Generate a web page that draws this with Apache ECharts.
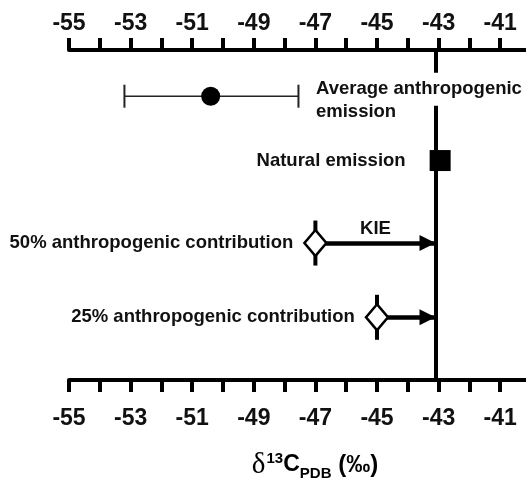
<!DOCTYPE html>
<html><head><meta charset="utf-8">
<script src="https://cdn.jsdelivr.net/npm/echarts@6/dist/echarts.min.js"></script>
<style>html,body{margin:0;padding:0;background:#fff}#c{width:526px;height:483px}</style>
</head><body><div id="c"></div>
<script>
// ---- data (δ13C, ‰ PDB) ----
const tickLabels = [-55, -53, -51, -49, -47, -45, -43, -41];
const anthroMean = -50.4;
const anthroRange = [-53.2, -47.55];
const naturalValue = -42.95;
const kieValue = -43.1;
const mixLabels = ['50% anthropogenic contribution', '25% anthropogenic contribution'];
const mixValues = [-47.0, -45.0];
const anthroLabelLines = ['Average anthropogenic', 'emission'];
// vertical row positions of the annotation rows (no data meaning)
const rowAnthro = 8.6;
const rowNatural = 6.65;
const rowMix = [4.15, 1.9];

const SANS = "'Liberation Sans', Arial, Helvetica, sans-serif";
const labelFmt = v => tickLabels.includes(v) ? String(v) : '';
const textStyle = { fontFamily: SANS, fontWeight: 'bold', fontSize: 18.5, color: '#111' };

function xAxisCfg(pos, margin) {
  return {
    type: 'value', position: pos, min: -55, max: -40, interval: 1,
    axisLine: { show: true, onZero: false, lineStyle: { color: '#000', width: 4 } },
    axisTick: { show: true, length: 12, interval: 0, lineStyle: { color: '#000', width: 4 } },
    splitLine: { show: false },
    axisLabel: { interval: 0, formatter: labelFmt, margin: margin, fontSize: 23, fontWeight: 'bold', color: '#111', fontFamily: SANS }
  };
}

const chart = echarts.init(document.getElementById('c'), null, { renderer: 'canvas' });
chart.setOption({
  animation: false,
  backgroundColor: '#fff',
  grid: { left: 69, width: 462, top: 50, height: 330, outerBoundsMode: 'none', containLabel: false },
  xAxis: [xAxisCfg('top', 15), xAxisCfg('bottom', 27)],
  yAxis: { type: 'value', min: 0, max: 10, show: false },
  graphic: [{
    type: 'text', x: 315, y: 465,
    style: {
      text: '{d|δ}{s|13}{c|C}{p|PDB}{q| (‰)}',
      align: 'center', verticalAlign: 'middle',
      rich: {
        d: { fontFamily: "'Liberation Serif', 'Times New Roman', serif", fontSize: 29, color: '#111' },
        s: { fontFamily: SANS, fontWeight: 'bold', fontSize: 15, color: '#111', padding: [0, 0, 12, 1] },
        c: { fontFamily: SANS, fontWeight: 'bold', fontSize: 23, color: '#111' },
        p: { fontFamily: SANS, fontWeight: 'bold', fontSize: 15, color: '#111', padding: [18, 0, 0, 0] },
        q: { fontFamily: SANS, fontWeight: 'bold', fontSize: 24, color: '#111' }
      }
    }
  }],
  series: [
    { // vertical reference line
      type: 'line', xAxisIndex: 1, data: [],
      markLine: {
        z: 1, silent: true, symbol: 'none', label: { show: false },
        lineStyle: { color: '#000', width: 4, type: 'solid' },
        data: [{ xAxis: kieValue }]
      }
    },
    { // error bar of anthropogenic emission
      type: 'line', xAxisIndex: 1, z: 2,
      data: [[anthroRange[0], rowAnthro], [anthroRange[1], rowAnthro]],
      symbol: 'rect', symbolSize: [2, 23],
      lineStyle: { color: '#222', width: 1.5 }, itemStyle: { color: '#222', opacity: 1 }
    },
    { // mean anthropogenic
      type: 'scatter', xAxisIndex: 1, z: 3,
      data: [[anthroMean, rowAnthro]], symbol: 'circle', symbolSize: 19,
      itemStyle: { color: '#000', opacity: 1 }
    },
    { // label line 1 (masks the vertical line)
      type: 'scatter', xAxisIndex: 1, z: 7,
      data: [[anthroRange[1], rowAnthro]], symbolSize: 1,
      itemStyle: { color: 'rgba(0,0,0,0)', opacity: 1 },
      label: Object.assign({
        show: true, position: 'right', distance: 17, offset: [0, -7],
        formatter: anthroLabelLines[0], align: 'left',
        backgroundColor: '#fff', padding: [5, 4, 9, 0]
      }, textStyle)
    },
    { // label line 2
      type: 'scatter', xAxisIndex: 1, z: 7,
      data: [[anthroRange[1], rowAnthro]], symbolSize: 1,
      itemStyle: { color: 'rgba(0,0,0,0)', opacity: 1 },
      label: Object.assign({
        show: true, position: 'right', distance: 17, offset: [0, 16],
        formatter: anthroLabelLines[1], align: 'left'
      }, textStyle)
    },
    { // natural emission
      type: 'scatter', xAxisIndex: 1, z: 6,
      data: [[naturalValue, rowNatural]], symbol: 'rect', symbolSize: 21,
      itemStyle: { color: '#000', opacity: 1 },
      label: Object.assign({
        show: true, position: 'left', distance: 24, formatter: 'Natural emission'
      }, textStyle)
    },
    { // diamond stems
      type: 'scatter', xAxisIndex: 1, z: 3,
      data: mixValues.map((v, i) => [v, rowMix[i]]), symbol: 'rect', symbolSize: [4, 45],
      itemStyle: { color: '#000', opacity: 1 }
    },
    { // KIE arrows
      type: 'line', xAxisIndex: 1, data: [],
      markLine: {
        z: 4, silent: true, symbol: ['none', 'triangle'], symbolSize: [16, 16],
        symbolOffset: [[0, 0], [0, 8]],
        lineStyle: { color: '#000', width: 4.5, type: 'solid' },
        itemStyle: { color: '#000' },
        label: { show: false },
        data: mixValues.map((v, i) => [
          { coord: [v, rowMix[i]], label: i === 0 ? Object.assign({
              show: true, position: 'insideMiddleTop', distance: 5, formatter: 'KIE' }, textStyle) : { show: false } },
          { coord: [kieValue, rowMix[i]] }
        ])
      }
    },
    { // mixtures
      type: 'scatter', xAxisIndex: 1, z: 6,
      data: mixValues.map((v, i) => ({ value: [v, rowMix[i]], name: mixLabels[i] })),
      symbol: 'diamond', symbolSize: [22, 26],
      itemStyle: { color: '#fff', borderColor: '#000', borderWidth: 2.5, opacity: 1 },
      label: Object.assign({
        show: true, position: 'left', distance: 10, formatter: p => p.name
      }, textStyle)
    }
  ]
});
</script></body></html>
